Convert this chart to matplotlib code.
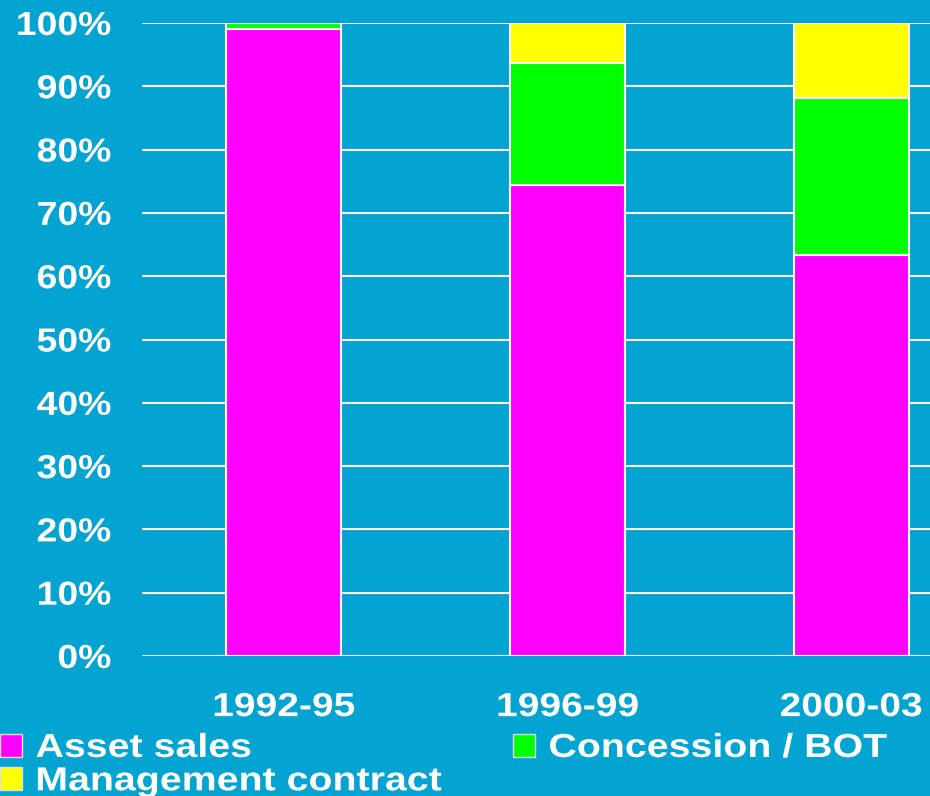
import matplotlib
matplotlib.use("Agg")
import matplotlib.pyplot as plt
import numpy as np
from matplotlib.patches import Patch
from matplotlib.patheffects import AbstractPathEffect
from matplotlib.transforms import Affine2D

categories = ["1992-95", "1996-99", "2000-03"]
asset_sales = [99.0, 74.4, 63.3]
concession = [1.0, 19.3, 24.9]
management = [0.0, 6.3, 11.8]
ytick_labels = ["0%", "10%", "20%", "30%", "40%", "50%", "60%", "70%", "80%", "90%", "100%"]

BG = "#03A4D1"
C_ASSET = "#FF00FF"
C_CONC = "#00FF00"
C_MGMT = "#FFFF00"


class StretchX(AbstractPathEffect):
    """Widen text horizontally (to mimic the letter-spaced look)."""
    def __init__(self, sx, anchor="left"):
        super().__init__()
        self.sx = sx
        self.anchor = anchor

    def draw_path(self, renderer, gc, tpath, affine, rgbFace=None):
        ext = tpath.get_extents()
        if self.anchor == "left":
            x0 = ext.x0
        elif self.anchor == "right":
            x0 = ext.x1
        else:
            x0 = 0.5 * (ext.x0 + ext.x1)
        t = Affine2D().translate(-x0, 0).scale(self.sx, 1).translate(x0, 0) + affine
        renderer.draw_path(gc, tpath, t, rgbFace)


plt.rcParams['font.family'] = ['Liberation Sans', 'DejaVu Sans']

fig = plt.figure(figsize=(9.3, 7.96), dpi=100, facecolor=BG)
ax = fig.add_axes([142/930, 1-656/796, 1-142/930, (656-23)/796])
ax.set_facecolor(BG)

x = np.arange(len(categories))
w = 0.405
a = np.array(asset_sales)
c = np.array(concession)
m = np.array(management)
ax.set_axisbelow(True)
ax.bar(x, a, w, color=C_ASSET, edgecolor="white", linewidth=1.5, zorder=3)
ax.bar(x, c, w, bottom=a, color=C_CONC, edgecolor="white", linewidth=1.5, zorder=3)
ax.bar(x, m, w, bottom=a + c, color=C_MGMT, edgecolor="white", linewidth=1.5, zorder=3)

ax.set_xlim(-0.5, 2.277)
ax.set_ylim(0, 100)
ax.set_yticks(np.arange(0, 101, 10))
ax.set_yticklabels(ytick_labels)
ax.set_xticks(x)
ax.set_xticklabels(categories)
ax.yaxis.grid(True, color="white", linewidth=1.5, zorder=0)
ax.xaxis.grid(False)
for s in ax.spines.values():
    s.set_visible(False)
ax.tick_params(axis="y", length=0, pad=22, labelsize=24, labelcolor="white")
ax.tick_params(axis="x", length=0, pad=26, labelsize=24, labelcolor="white")
for lab in ax.get_yticklabels():
    lab.set_fontweight("bold")
    lab.set_path_effects([StretchX(1.12, "right")])
for lab in ax.get_xticklabels():
    lab.set_fontweight("bold")
    lab.set_path_effects([StretchX(1.17, "center")])

h_a = Patch(facecolor=C_ASSET, edgecolor="#DDDDDD", linewidth=1)
h_c = Patch(facecolor=C_CONC, edgecolor="#DDDDDD", linewidth=1)
h_m = Patch(facecolor=C_MGMT, edgecolor="#DDDDDD", linewidth=1)

common = dict(frameon=False, handlelength=0.67, handleheight=0.67,
              handletextpad=0.4, borderpad=0, borderaxespad=0, labelspacing=0.07,
              labelcolor="white", prop={'weight': 'bold', 'size': 24})
leg1 = fig.legend([h_a, h_m], ["Asset sales", "Management contract"], loc="upper left",
                  bbox_to_anchor=(0.0, 1 - 733/796), **common)
leg2 = fig.legend([h_c], ["Concession / BOT"], loc="upper left",
                  bbox_to_anchor=(513/930, 1 - 733/796), **common)
for leg in (leg1, leg2):
    for t in leg.get_texts():
        t.set_path_effects([StretchX(1.18, "left")])

fig.savefig("out.png", dpi=100, facecolor=BG)
